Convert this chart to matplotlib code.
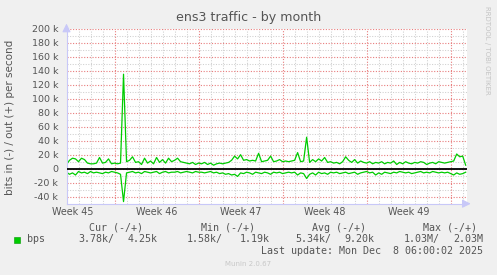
import numpy as np
import matplotlib

matplotlib.use("Agg")
import matplotlib.pyplot as plt
from matplotlib.ticker import FixedLocator, FuncFormatter

W, H = 497, 275

# samples every 6 hours, first sample at the left edge of the graph (days)
out_k = [
    6, 12, 15, 14, 10, 15, 13, 8, 7, 7,
    8, 16, 8, 9, 14, 7, 8, 7, 8, 135,
    10, 12, 17, 9, 10, 6, 15, 8, 11, 7,
    16, 9, 13, 8, 15, 10, 12, 15, 10, 9,
    8, 7, 9, 6, 8, 7, 9, 6, 8, 5,
    7, 8, 7, 8, 9, 12, 18, 14, 20, 12,
    13, 11, 12, 11, 22, 10, 11, 12, 18, 10,
    11, 13, 10, 11, 10, 11, 12, 23, 10, 11,
    45, 9, 13, 10, 14, 11, 16, 9, 10, 8,
    9, 7, 10, 17, 12, 9, 13, 8, 11, 9,
    8, 10, 7, 9, 8, 10, 7, 9, 8, 11,
    6, 9, 7, 10, 8, 7, 9, 8, 10, 9,
    6, 8, 9, 7, 10, 9, 8, 9, 10, 11,
    21, 17, 18, 5,
]
in_k = [
    5, 8, 6, 9, 4, 6, 5, 7, 4, 6,
    5, 6, 7, 5, 6, 4, 5, 6, 8, 47,
    6, 5, 4, 6, 5, 7, 4, 5, 6, 5,
    4, 7, 5, 4, 6, 5, 5, 4, 6, 5,
    4, 5, 6, 4, 5, 5, 6, 5, 4, 6,
    5, 7, 6, 8, 7, 9, 8, 11, 6, 7,
    5, 6, 8, 5, 6, 7, 5, 6, 8, 5,
    6, 5, 7, 6, 5, 6, 5, 9, 6, 7,
    14, 8, 6, 9, 5, 7, 6, 8, 5, 6,
    5, 7, 6, 5, 7, 6, 5, 8, 6, 5,
    4, 6, 5, 9, 6, 8, 5, 6, 7, 5,
    6, 4, 5, 6, 5, 7, 6, 5, 4, 6,
    5, 6, 4, 5, 6, 5, 6, 5, 7, 9,
    6, 8, 7, 5,
]
week_labels = ["Week 45", "Week 46", "Week 47", "Week 48", "Week 49"]
week_starts = [4.04, 11.04, 18.04, 25.04, 32.04]  # days from left edge
span_days = 33.4

legend_head = ["Cur (-/+)", "Min (-/+)", "Avg (-/+)", "Max (-/+)"]
legend_in = ["3.78k/", "1.58k/", "5.34k/", "1.03M/"]
legend_out = ["4.25k", "1.19k", "9.20k", "2.03M"]

GREEN = "#00cc00"
TXT = "#555555"
AXC = "#c8c8f8"
MINOR = "#cfcfcf"
MAJOR = "#e87c7c"
DOTS = (0, (1, 1.5))


def fx(px):
    return px / W


def fy(py):
    return 1 - py / H


fig = plt.figure(figsize=(W / 100, H / 100), dpi=100, facecolor="#f0f0f0")
ax = fig.add_axes([fx(66.5), fy(203.7), 401 / W, 175 / H])
ax.set_facecolor("white")

t = np.arange(len(out_k)) * 0.25
ax.plot(t, out_k, color=GREEN, lw=0.9)
ax.plot(t, -np.array(in_k), color=GREEN, lw=0.9)
ax.axhline(0, color="black", lw=1.3, zorder=3)

ax.set_xlim(0, span_days)
ax.set_ylim(-50, 200)

# grid: minor gray (1 day / 10k), major red (1 week / 20k)
for i, d in enumerate(np.arange(0.04, span_days, 1.0)):
    if (i - 4) % 7:
        ax.axvline(d, color=MINOR, lw=0.75, ls=DOTS, zorder=0)
for y in range(-50, 201, 10):
    if y % 20:
        ax.axhline(y, color=MINOR, lw=0.75, ls=DOTS, zorder=0)
for d in week_starts:
    ax.axvline(d, color=MAJOR, lw=0.8, ls=DOTS, zorder=0)
for y in range(-40, 201, 20):
    ax.axhline(y, color=MAJOR, lw=0.8, ls=DOTS, zorder=0)

ax.yaxis.set_major_locator(FixedLocator(range(-40, 201, 20)))
ax.yaxis.set_major_formatter(FuncFormatter(lambda v, p: "0" if v == 0 else f"{int(v)} k"))
ax.tick_params(axis="y", length=0, pad=6, labelsize=6.8, labelcolor=TXT)
ax.set_xticks([])

for lab, s in zip(week_labels, week_starts):
    ax.text(s - 3.5, -50 - 12, lab, ha="center", va="center", fontsize=6.9, color=TXT,
            clip_on=False)

for side in ("top", "right"):
    ax.spines[side].set_visible(False)
for side in ("left", "bottom"):
    ax.spines[side].set_color(AXC)
    ax.spines[side].set_linewidth(0.8)
ax.annotate("", xy=(0, 1.045), xytext=(0, 0.98), xycoords="axes fraction",
            arrowprops=dict(arrowstyle="-|>,head_length=0.5,head_width=0.25", color=AXC, lw=0.8))
ax.annotate("", xy=(1.015, 0), xytext=(0.99, 0), xycoords="axes fraction",
            arrowprops=dict(arrowstyle="-|>,head_length=0.5,head_width=0.25", color=AXC, lw=0.8))

fig.text(fx(248.4), fy(18), "ens3 traffic - by month", ha="center", va="center",
         fontsize=9.1, color=TXT)
fig.text(fx(10), fy(117), "bits in (-) / out (+) per second", rotation=90,
         ha="center", va="center", fontsize=7.5, color=TXT)
fig.text(fx(487), fy(6), "RRDTOOL / TOBI OETIKER", rotation=270, ha="center", va="top",
         fontsize=5, color="#c4c4c4")

mono = dict(family="DejaVu Sans Mono", fontsize=7.2, color=TXT, va="center")
for lab, x in zip(legend_head, [89, 201, 312, 423]):
    fig.text(fx(x), fy(227.7), lab, ha="left", **mono)
fig.patches.append(plt.Rectangle((fx(13.5), fy(242.5)), 6 / W, 6 / H, transform=fig.transFigure,
                                 facecolor=GREEN, edgecolor="#009900", lw=0.4))
fig.text(fx(26.7), fy(239.3), "bps", ha="left", **mono)
for lab, x in zip(legend_in, [78.3, 186.3, 295, 403.3]):
    fig.text(fx(x), fy(239.3), lab, ha="left", **mono)
for lab, x in zip(legend_out, [158, 269.3, 374.3, 483]):
    fig.text(fx(x), fy(239.3), lab, ha="right", **mono)
fig.text(fx(483), fy(251), "Last update: Mon Dec  8 06:00:02 2025", ha="right", **mono)
fig.text(fx(248), fy(264.3), "Munin 2.0.67", ha="center", va="center", fontsize=5,
         color="#c8c8c8")

fig.savefig("out.png", dpi=100, facecolor=fig.get_facecolor())
